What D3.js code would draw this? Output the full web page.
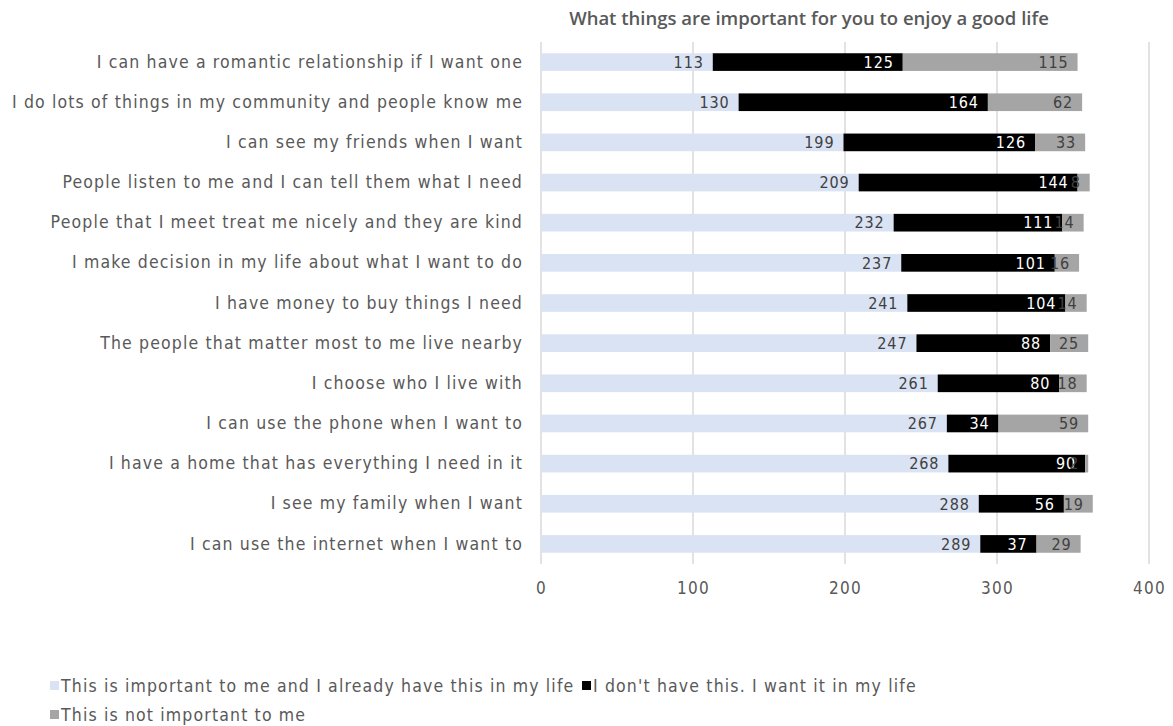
<html lang="en">
<head>
  <meta charset="UTF-8"/>
  <title>What things are important for you to enjoy a good life</title>
  <script src="https://d3js.org/d3.v7.min.js"></script>
  <style>
    body { margin: 0; background: #ffffff; }
    text { font-family: "DejaVu Sans Condensed", "DejaVu Sans", sans-serif; }
  </style>
</head>
<body onload="init()">
  <svg id="chart"></svg>
<script>
  // categories, top to bottom
  var categories = [
    "I can have a romantic relationship if I want one",
    "I do lots of things in my community and people know me",
    "I can see my friends when I want",
    "People listen to me and I can tell them what I need",
    "People that I meet treat me nicely and they are kind",
    "I make decision in my life about what I want to do",
    "I have money to buy things I need",
    "The people that matter most to me live nearby",
    "I choose who I live with",
    "I can use the phone when I want to",
    "I have a home that has everything I need in it",
    "I see my family when I want",
    "I can use the internet when I want to"
  ];
  var haveIt = [113, 130, 199, 209, 232, 237, 241, 247, 261, 267, 268, 288, 289];
  var wantIt = [125, 164, 126, 144, 111, 101, 104, 88, 80, 34, 90, 56, 37];
  var notImportant = [115, 62, 33, 8, 14, 16, 14, 25, 18, 59, 2, 19, 29];
  var seriesNames = [
    "This is important to me and I already have this in my life",
    "I don't have this. I want it in my life",
    "This is not important to me"
  ];
  var xTicks = [0, 100, 200, 300, 400];

  function init() {
    var width = 1173, height = 726;
    var colors = ["#dae3f3", "#000000", "#a5a5a5"];
    var labelColors = ["#404040", "#ffffff", "#404040"];
    var textColor = "#595959";

    var svg = d3.select("#chart").attr("width", width).attr("height", height);

    var x = d3.scaleLinear().domain([0, 400]).range([541, 1149]);
    var y = d3.scaleBand().domain(categories).range([42, 564]).paddingInner(0.56).paddingOuter(0.28);

    // title
    svg.append("text")
      .attr("x", 809).attr("y", 25)
      .attr("text-anchor", "middle")
      .style("font-family", "'Open Sans', sans-serif")
      .style("font-weight", "600")
      .style("font-size", "18.5px")
      .attr("fill", textColor)
      .text("What things are important for you to enjoy a good life");

    // gridlines
    svg.append("g").selectAll("line").data(xTicks).join("line")
      .attr("x1", function(d){ return x(d); }).attr("x2", function(d){ return x(d); })
      .attr("y1", 42).attr("y2", 564)
      .attr("stroke", "#d9d9d9").attr("stroke-width", 1.5);

    // x axis labels
    var xAxis = d3.axisBottom(x).tickValues(xTicks).tickSize(0).tickPadding(16);
    var gx = svg.append("g").attr("transform", "translate(0,566)").call(xAxis);
    gx.select(".domain").remove();
    gx.selectAll("text").attr("fill", textColor).style("font-size", "17px")
      .style("letter-spacing", "1.2px")
      .style("font-family", "'DejaVu Sans Condensed', sans-serif");

    // category labels
    var yAxis = d3.axisLeft(y).tickSize(0).tickPadding(18);
    var gy = svg.append("g").attr("transform", "translate(541,0)").call(yAxis);
    gy.select(".domain").remove();
    gy.selectAll("text").attr("fill", textColor).style("font-size", "17.5px")
      .style("letter-spacing", "1.15px")
      .style("font-family", "'DejaVu Sans Condensed', sans-serif");

    // stacked data
    var rows = categories.map(function(c, i) {
      return { cat: c, v: [haveIt[i], wantIt[i], notImportant[i]] };
    });
    var segs = [];
    rows.forEach(function(r) {
      var acc = 0;
      r.v.forEach(function(val, k) {
        segs.push({ cat: r.cat, k: k, x0: acc, x1: acc + val, val: val });
        acc += val;
      });
    });

    svg.append("g").selectAll("rect").data(segs).join("rect")
      .attr("x", function(d){ return x(d.x0); })
      .attr("width", function(d){ return x(d.x1) - x(d.x0); })
      .attr("y", function(d){ return y(d.cat); })
      .attr("height", y.bandwidth())
      .attr("fill", function(d){ return colors[d.k]; });

    svg.append("g").selectAll("text").data(segs).join("text")
      .attr("x", function(d){ return x(d.x1) - 9; })
      .attr("y", function(d){ return y(d.cat) + y.bandwidth() / 2; })
      .attr("dy", "0.36em")
      .attr("text-anchor", "end")
      .style("font-size", "16px")
      .style("letter-spacing", "0.9px")
      .attr("fill", function(d){ return labelColors[d.k]; })
      .text(function(d){ return d.val; });

    // legend
    var legendPos = [[50, 686], [582, 686], [50, 715]];
    var lg = svg.append("g").selectAll("g").data(seriesNames).join("g")
      .attr("transform", function(d, i){ return "translate(" + legendPos[i][0] + "," + legendPos[i][1] + ")"; });
    lg.append("rect").attr("x", 0).attr("y", -5).attr("width", 9).attr("height", 9)
      .attr("fill", function(d, i){ return colors[i]; });
    lg.append("text").attr("x", 11).attr("y", 0).attr("dy", "0.36em")
      .style("font-size", "17.5px").style("letter-spacing", "1.15px").attr("fill", textColor)
      .text(function(d){ return d; });
  }
</script>
</body>
</html>
